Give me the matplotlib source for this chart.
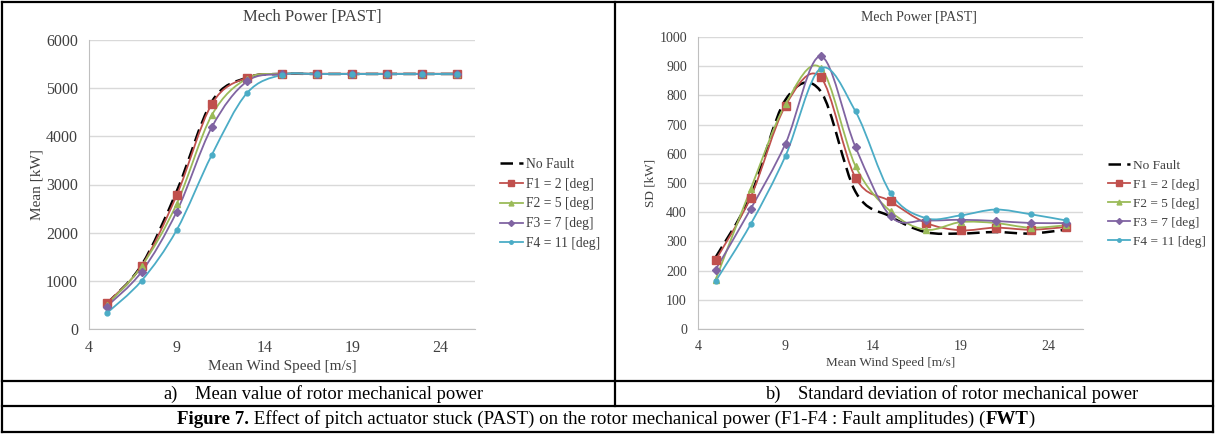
import matplotlib
matplotlib.use("Agg")
import matplotlib.pyplot as plt
import numpy as np
from matplotlib.path import Path
from matplotlib.patches import PathPatch
from matplotlib.lines import Line2D

plt.rcParams['font.family'] = ['Liberation Serif', 'DejaVu Serif']

# wind speeds [m/s]
wind = [5, 7, 9, 11, 13, 15, 17, 19, 21, 23, 25]

# mean rotor mechanical power [kW]
mean_nofault = [520, 1330, 2860, 4720, 5220, 5295, 5295, 5295, 5295, 5295, 5295]
mean_f1 = [533, 1310, 2780, 4670, 5220, 5300, 5300, 5300, 5300, 5300, 5300]
mean_f2 = [495, 1305, 2600, 4440, 5200, 5295, 5295, 5295, 5295, 5295, 5295]
mean_f3 = [464, 1190, 2437, 4190, 5140, 5290, 5295, 5295, 5295, 5295, 5295]
mean_f4 = [325, 1004, 2057, 3615, 4897, 5277, 5295, 5295, 5295, 5295, 5295]

# standard deviation of rotor mechanical power [kW]
sd_nofault = [245, 455, 785, 815, 470, 385, 332, 327, 332, 327, 340]
sd_f1 = [235, 450, 765, 863, 518, 437, 364, 338, 347, 340, 349]
sd_f2 = [168, 478, 770, 895, 558, 403, 340, 366, 363, 347, 355]
sd_f3 = [203, 410, 635, 934, 623, 386, 372, 374, 370, 363, 363]
sd_f4 = [163, 358, 593, 892, 745, 466, 380, 389, 409, 393, 372]

labels = ["No Fault", "F1 = 2 [deg]", "F2 = 5 [deg]", "F3 = 7 [deg]", "F4 = 11 [deg]"]
colors = ["black", "#C0504D", "#9BBB59", "#8064A2", "#4BACC6"]
markers = [None, "s", "^", "D", "o"]
msizes = [0, 5.5, 4.5, 4, 3.5]

W, H = 1215, 434


def smooth_path(x, y):
    # excel style smoothed line: catmull-rom converted to cubic beziers
    p = np.column_stack([x, y]).astype(float)
    ext = np.vstack([p[0], p, p[-1]])
    verts = [tuple(p[0])]
    codes = [Path.MOVETO]
    for i in range(len(p) - 1):
        p0, p1, p2, p3 = ext[i], ext[i + 1], ext[i + 2], ext[i + 3]
        c1 = p1 + (p2 - p0) / 6.0
        c2 = p2 - (p3 - p1) / 6.0
        verts += [tuple(c1), tuple(c2), tuple(p2)]
        codes += [Path.CURVE4] * 3
    return Path(verts, codes)


def draw_chart(ax, series, ymax, ystep, ylabel, fs):
    for k, vals in enumerate(series):
        path = smooth_path(wind, vals)
        if k == 0:
            patch = PathPatch(path, fill=False, edgecolor="black", lw=1.8,
                              linestyle=(0, (5, 2.5)), zorder=3)
        else:
            patch = PathPatch(path, fill=False, edgecolor=colors[k], lw=1.3, zorder=4)
            ax.plot(wind, vals, linestyle="none", marker=markers[k], ms=msizes[k],
                    color=colors[k], zorder=5)
        ax.add_patch(patch)
    ax.set_xlim(4, 26)
    ax.set_ylim(0, ymax)
    ax.set_xticks([4, 9, 14, 19, 24])
    ax.set_yticks(np.arange(0, ymax + 1, ystep))
    ax.yaxis.grid(True, color="#D9D9D9", lw=1)
    ax.set_axisbelow(True)
    for s in ["top", "right"]:
        ax.spines[s].set_visible(False)
    for s in ["left", "bottom"]:
        ax.spines[s].set_color("#BFBFBF")
    ax.tick_params(length=0, labelsize=fs, pad=8, colors="#404040")
    ax.set_xlabel("Mean Wind Speed [m/s]", fontsize=fs - 0.5, color="#404040", labelpad=3)
    ax.set_ylabel(ylabel, fontsize=fs - 0.5, color="#404040", labelpad=2)


fig = plt.figure(figsize=(W / 100, H / 100), dpi=100)

ax1 = fig.add_axes([89 / W, 1 - 329 / H, (475 - 89) / W, (329 - 40) / H])
draw_chart(ax1, [mean_nofault, mean_f1, mean_f2, mean_f3, mean_f4], 6000, 1000, "Mean [kW]", 11.5)

ax2 = fig.add_axes([698 / W, 1 - 329 / H, (1083 - 698) / W, (329 - 37) / H])
draw_chart(ax2, [sd_nofault, sd_f1, sd_f2, sd_f3, sd_f4], 1000, 100, "SD [kW]", 10)

fig.text(312 / W, 1 - 17 / H, "Mech Power [PAST]", ha="center", va="center", fontsize=12, color="#404040")
fig.text(919 / W, 1 - 17 / H, "Mech Power [PAST]", ha="center", va="center", fontsize=10, color="#404040")

handles = []
for k in range(5):
    if k == 0:
        handles.append(Line2D([], [], color="black", lw=1.8, linestyle=(0, (5, 2.5))))
    else:
        handles.append(Line2D([], [], color=colors[k], lw=1.3, marker=markers[k],
                              ms=msizes[k] - 1))

for ax, lx, lfs in [(ax1, 493, 9.8), (ax2, 1101, 9.6)]:
    ax.legend(handles, labels, loc="center left", bbox_to_anchor=(lx / W, 1 - 204 / H),
              bbox_transform=fig.transFigure, frameon=False, fontsize=lfs,
              borderpad=0, handlelength=1.7, handletextpad=0.2, labelspacing=0.5,
              labelcolor="#404040")

# table frame around the figure
tl = dict(color="black", lw=1.6, transform=fig.transFigure)
for xs, ys in [([2, 1213], [2, 2]), ([2, 1213], [432, 432]), ([2, 2], [2, 432]),
               ([1213, 1213], [2, 432]), ([615, 615], [2, 406]),
               ([2, 1213], [381, 381]), ([2, 1213], [406, 406])]:
    fig.add_artist(Line2D([x / W for x in xs], [1 - y / H for y in ys], **tl))

fig.text(163 / W, 1 - 394 / H, "a)", ha="left", va="center", fontsize=13.3)
fig.text(195 / W, 1 - 394 / H, "Mean value of rotor mechanical power", ha="left", va="center", fontsize=13.3)
fig.text(766 / W, 1 - 394 / H, "b)", ha="left", va="center", fontsize=13.3)
fig.text(798 / W, 1 - 394 / H, "Standard deviation of rotor mechanical power", ha="left", va="center", fontsize=13.3)

# caption with bold parts, laid out piece by piece then centred
parts = [("Figure 7.", "bold"),
         (" Effect of pitch actuator stuck (PAST) on the rotor mechanical power (F1-F4 : Fault amplitudes) (", "normal"),
         ("FWT", "bold"), (")", "normal")]
cy = 1 - 419 / H
texts = []
xcur = 0.0
for s, w in parts:
    t = fig.text(xcur, cy, s, ha="left", va="center", fontsize=13.6, weight=w)
    fig.canvas.draw()
    bb = t.get_window_extent()
    xcur = bb.x1 / W
    texts.append(t)
shift = 606 / W - xcur / 2
for t in texts:
    x0, y0 = t.get_position()
    t.set_position((x0 + shift, y0))

fig.savefig("out.png", dpi=100)
